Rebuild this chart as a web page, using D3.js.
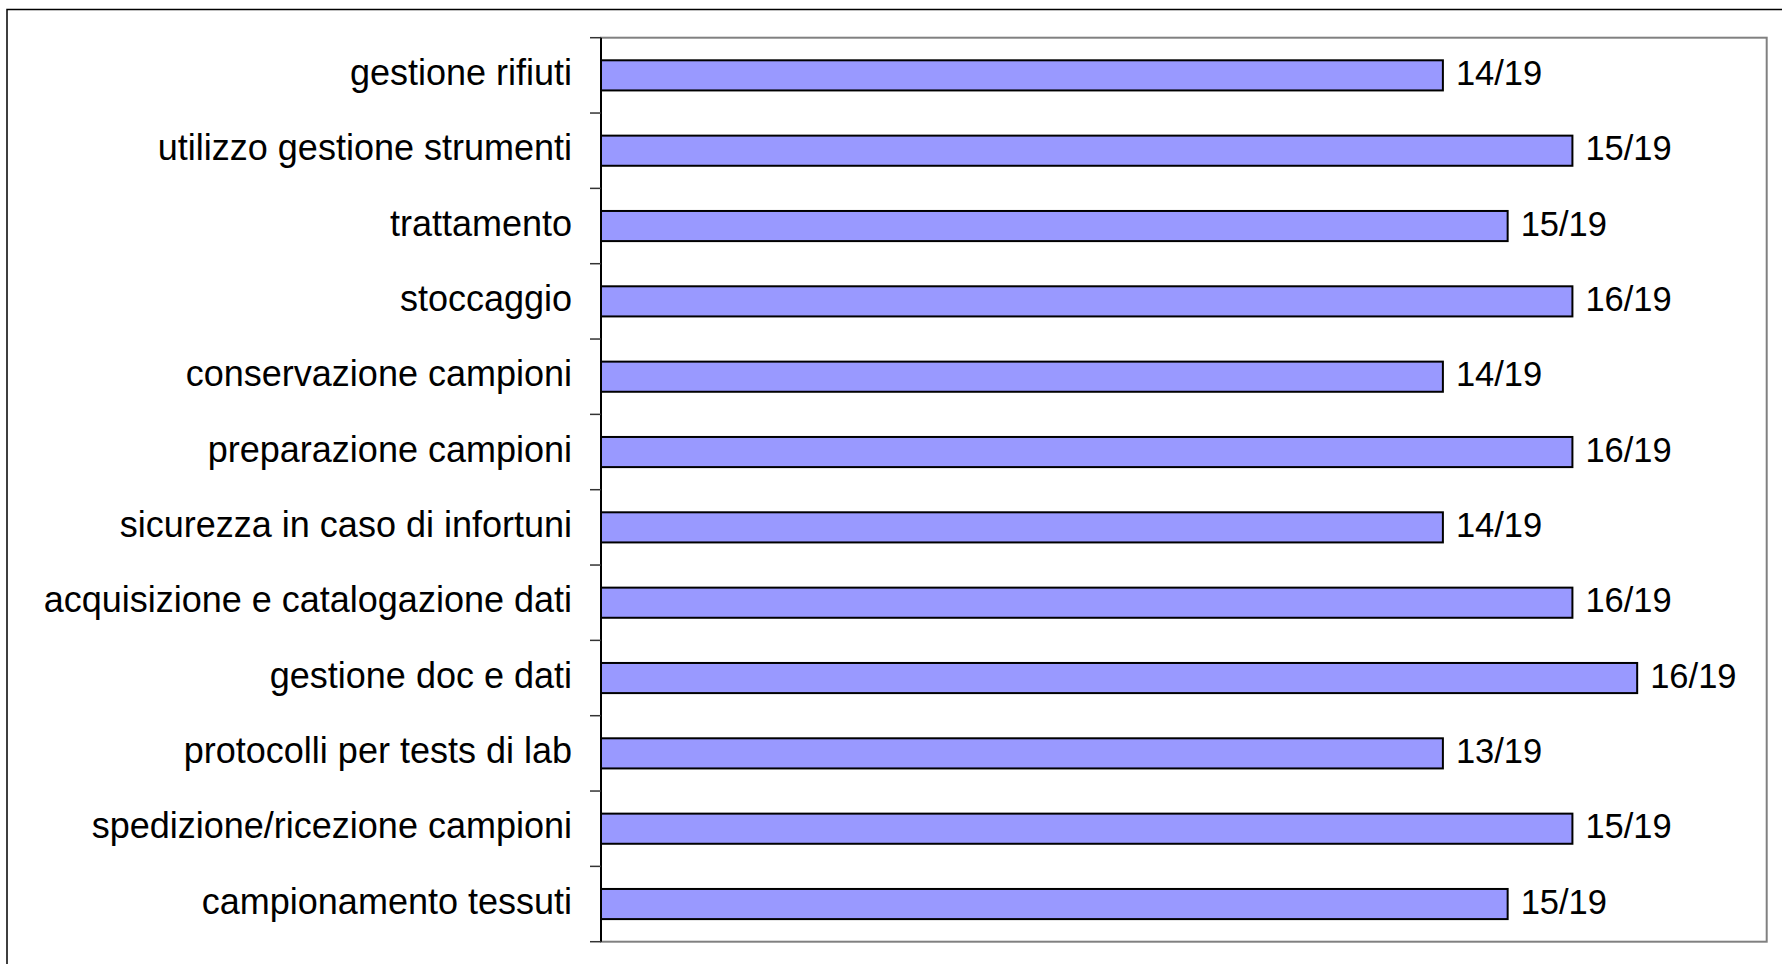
<!DOCTYPE html>
<html>
<head>
<meta charset="utf-8">
<script src="https://cdn.jsdelivr.net/npm/d3@7"></script>
<style>
  html, body { margin: 0; padding: 0; background: #fff; }
  svg { display: block; }
</style>
</head>
<body>
<script>
// categories, top to bottom
var categories = [
  "gestione rifiuti",
  "utilizzo gestione strumenti",
  "trattamento",
  "stoccaggio",
  "conservazione campioni",
  "preparazione campioni",
  "sicurezza in caso di infortuni",
  "acquisizione e catalogazione dati",
  "gestione doc e dati",
  "protocolli per tests di lab",
  "spedizione/ricezione campioni",
  "campionamento tessuti"
];
// bar lengths (score, axis runs 0..18)
var scores = [13, 15, 14, 15, 13, 15, 13, 15, 16, 13, 15, 14];
var scoreMax = 18;
// text printed at the end of each bar
var barLabels = ["14/19", "15/19", "15/19", "16/19", "14/19", "16/19",
                 "14/19", "16/19", "16/19", "13/19", "15/19", "15/19"];

var width = 1782, height = 964;
var margin = {top: 37.7, right: 15.3, bottom: 22.3, left: 601};
var plotW = width - margin.left - margin.right,
    plotH = height - margin.top - margin.bottom;

var svg = d3.select("body").append("svg")
  .attr("width", width)
  .attr("height", height);

// outer chart frame (runs off the right/bottom edge)
svg.append("rect")
  .attr("x", 7).attr("y", 9.5)
  .attr("width", width + 20).attr("height", height + 20)
  .attr("fill", "none")
  .attr("stroke", "#000")
  .attr("stroke-width", 1.5);

var g = svg.append("g").attr("transform", "translate(" + margin.left + "," + margin.top + ")");

var x = d3.scaleLinear().domain([0, scoreMax]).range([0, plotW]);
var y = d3.scaleBand().domain(categories).range([0, plotH]).paddingInner(0.6).paddingOuter(0.3);

// plot area border
g.append("rect")
  .attr("width", plotW).attr("height", plotH)
  .attr("fill", "none")
  .attr("stroke", "#808080")
  .attr("stroke-width", 2);

// bars
g.selectAll("rect.bar")
  .data(scores)
  .enter().append("rect")
  .attr("class", "bar")
  .attr("x", 0)
  .attr("y", function(d, i) { return y(categories[i]); })
  .attr("width", function(d) { return x(d); })
  .attr("height", y.bandwidth())
  .attr("fill", "#9999ff")
  .attr("stroke", "#000")
  .attr("stroke-width", 2);

// value labels
g.selectAll("text.val")
  .data(barLabels)
  .enter().append("text")
  .attr("class", "val")
  .attr("x", function(d, i) { return x(scores[i]) + 13; })
  .attr("y", function(d, i) { return y(categories[i]) + y.bandwidth() / 2 + 9.5; })
  .attr("font-family", "Liberation Sans, Arial, sans-serif")
  .attr("font-size", 34.5)
  .attr("fill", "#000")
  .text(function(d) { return d; });

// category axis: ticks at band boundaries
var step = plotH / categories.length;
var axis = g.append("g");
axis.append("line")
  .attr("x1", 0).attr("x2", 0)
  .attr("y1", 0).attr("y2", plotH)
  .attr("stroke", "#000")
  .attr("stroke-width", 2);
axis.selectAll("line.tick")
  .data(d3.range(categories.length + 1))
  .enter().append("line")
  .attr("class", "tick")
  .attr("x1", -11).attr("x2", 0)
  .attr("y1", function(d) { return d * step; })
  .attr("y2", function(d) { return d * step; })
  .attr("stroke", "#333")
  .attr("stroke-width", 1.5);
axis.selectAll("text")
  .data(categories)
  .enter().append("text")
  .attr("x", -29)
  .attr("y", function(d) { return y(d) + y.bandwidth() / 2 + 9.5; })
  .attr("text-anchor", "end")
  .attr("font-family", "Liberation Sans, Arial, sans-serif")
  .attr("font-size", 36)
  .attr("fill", "#000")
  .text(function(d) { return d; });
</script>
</body>
</html>
